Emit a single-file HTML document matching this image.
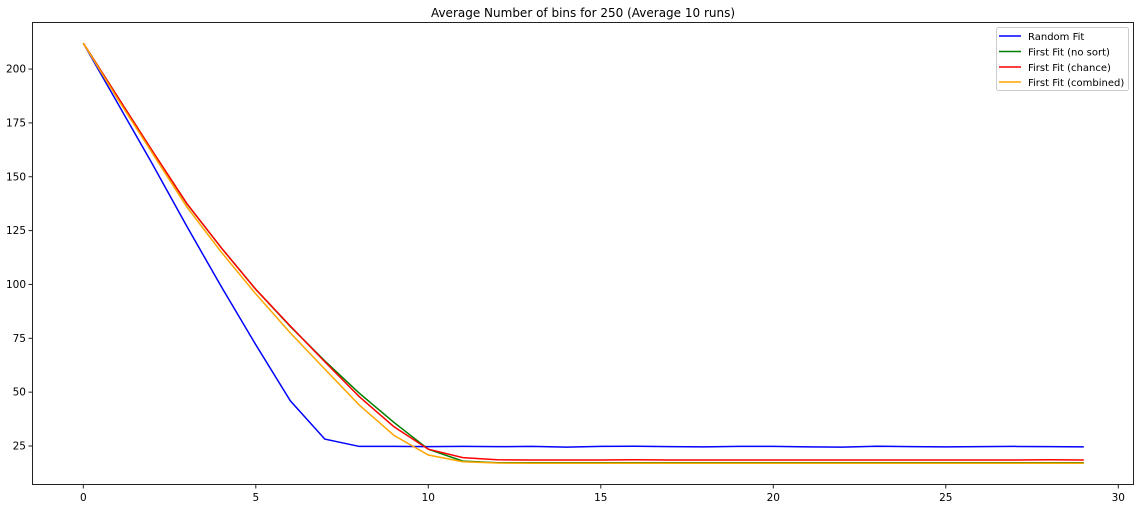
<!DOCTYPE html>
<html><head><meta charset="utf-8"><style>
body{margin:0;background:#fff;font-family:"Liberation Sans","DejaVu Sans",sans-serif}
svg text{font-family:"DejaVu Sans","Liberation Sans",sans-serif}
</style></head><body>
<svg id="chart" width="1140" height="508" xmlns="http://www.w3.org/2000/svg">
<text x="583" y="17" font-size="12" text-anchor="middle">Average Number of bins for 250 (Average 10 runs)</text>
<rect x="32.5" y="22.5" width="1101" height="462" fill="none" stroke="#222" stroke-width="1"/>
<g id="xt"></g>
<g id="yt"></g>
<g id="lines"></g>
<g>
<rect x="996.5" y="27.5" width="132" height="63" rx="2" fill="#fff" stroke="#ccc"/>
<line x1="999" y1="36" x2="1021" y2="36" stroke="blue" stroke-width="1.5"/><text x="1028" y="40" font-size="10">Random Fit</text>
<line x1="999" y1="51.5" x2="1021" y2="51.5" stroke="green" stroke-width="1.5"/><text x="1028" y="55.5" font-size="10">First Fit (no sort)</text>
<line x1="999" y1="67" x2="1021" y2="67" stroke="red" stroke-width="1.5"/><text x="1028" y="71" font-size="10">First Fit (chance)</text>
<line x1="999" y1="82" x2="1021" y2="82" stroke="orange" stroke-width="1.5"/><text x="1028" y="86" font-size="10">First Fit (combined)</text>
</g>
</svg>
<script>
const xTicks=[0,5,10,15,20,25,30];
const yTicks=[25,50,75,100,125,150,175,200];
const randomFit=[212,184,156,127,99,72,46,28.2,24.8,24.8,24.7,24.8,24.7,24.8,24.5,24.8,24.9,24.7,24.6,24.8,24.8,24.6,24.5,24.9,24.7,24.6,24.7,24.8,24.7,24.6];
const firstNoSort=[212,187,162,137.5,117,97.7,80.5,64.5,49.5,36,23.5,18,17.2,17.2,17.2,17.2,17.2,17.2,17.2,17.2,17.2,17.2,17.2,17.2,17.2,17.2,17.2,17.2,17.2,17.2];
const firstChance=[212,187,162,137.6,117,97.7,80.7,64.1,47.9,34,23.5,19.6,18.6,18.5,18.5,18.5,18.6,18.5,18.5,18.5,18.5,18.5,18.5,18.5,18.5,18.5,18.5,18.5,18.6,18.5];
const firstCombined=[212,186,161,136,115,95.6,77.5,60.7,44,30,20.8,17.7,17.1,17,17,17,17,17,17,17,17,17,17,17,17,17,17,17,17,17];
const X=v=>83.3+v*34.5, Y=v=>446-(v-25)*2.154;
const ns="http://www.w3.org/2000/svg";
const xt=document.getElementById('xt'),yt=document.getElementById('yt'),lg=document.getElementById('lines');
xTicks.forEach(t=>{
 const l=document.createElementNS(ns,'line');l.setAttribute('x1',X(t));l.setAttribute('x2',X(t));l.setAttribute('y1',485);l.setAttribute('y2',488.5);l.setAttribute('stroke','#222');
 
 
 xt.appendChild(l);
 const s=document.createElementNS(ns,'text');s.setAttribute('x',X(t));s.setAttribute('y',501);s.setAttribute('font-size','10.5');s.setAttribute('text-anchor','middle');s.textContent=t;
 
 
 xt.appendChild(s);
});
yTicks.forEach(t=>{
 const l=document.createElementNS(ns,'line');l.setAttribute('x1',28.5);l.setAttribute('x2',32);l.setAttribute('y1',Y(t));l.setAttribute('y2',Y(t));l.setAttribute('stroke','#222');
 
 
 yt.appendChild(l);
 const s=document.createElementNS(ns,'text');s.setAttribute('x',26);s.setAttribute('y',Y(t)+3.5);s.setAttribute('font-size','10.5');s.setAttribute('text-anchor','end');s.textContent=t;
 
 
 yt.appendChild(s);
});
[[randomFit,'blue','random-fit-line'],[firstNoSort,'green','first-fit-no-sort-line'],[firstChance,'red','first-fit-chance-line'],[firstCombined,'orange','first-fit-combined-line']].forEach(([d,c,n])=>{
 const p=document.createElementNS(ns,'polyline');
 p.setAttribute('points',d.map((v,i)=>X(i)+','+Y(v)).join(' '));
 p.setAttribute('fill','none');p.setAttribute('stroke',c);p.setAttribute('stroke-width','1.5');
 
 
 lg.appendChild(p);
});
</script>
</body></html>
